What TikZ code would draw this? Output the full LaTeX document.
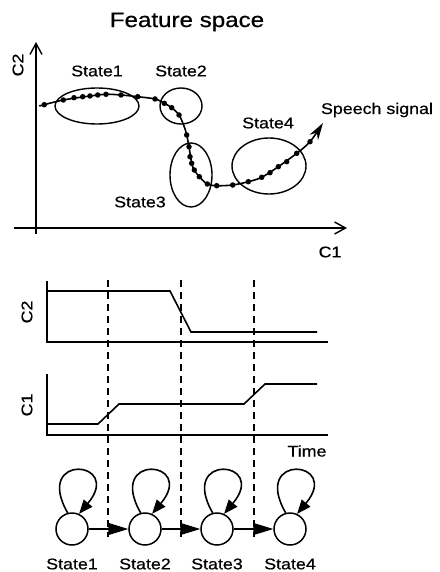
\documentclass[tikz,border=0pt]{standalone}
\usepackage{fontspec}
\setmainfont{Liberation Sans}[FakeStretch=1.15, FakeBold=0.6]
\usepackage{tikz}
\usetikzlibrary{arrows.meta}
\usetikzlibrary{positioning}

\begin{document}
\begin{tikzpicture}[x=1pt, y=-1pt,
  every node/.style={font=\fontsize{15.5}{15.5}\selectfont, inner sep=0pt},
  axis/.style={line width=1.4pt, -{Straight Barb[length=11pt, width=12pt]}},
  frame/.style={line width=1.5pt},
  signal/.style={line width=1.6pt},
  cluster/.style={line width=1.4pt},
  dot/.style={circle, fill, minimum size=5.5pt},
  guide/.style={dash pattern=on 7pt off 5pt, line width=1.6pt},
  state/.style={circle, draw, line width=1.5pt, minimum size=32pt},
]
\tikzset{>={Triangle[length=20pt, width=12pt]}}

\useasboundingbox (0,0) rectangle (439,572);

  % Labels
  \node[font=\fontsize{21}{21}\selectfont] (title) at (187,22) {Feature space};
  \node[rotate=90] (lc2) at (18,65) {C2};
  \node (lc1) at (330,252) {C1};
  \node (l1) at (97,71)  {State1};
  \node (l2) at (181,71) {State2};
  \node (l3) at (140,202) {State3};
  \node (l4) at (268,123) {State4};
  \node (speech) at (377,110) {Speech signal};

  % Feature space axes
  \coordinate (yt) at (36,42);
  \coordinate (yb) at (36,234);
  \coordinate (xl) at (14,228);
  \coordinate (xr) at (347,228);
  \draw[axis] (yb) -- (yt);
  \draw[axis] (xl) -- (xr);

  % Clusters
  \draw[cluster] (97,106)  ellipse [x radius=42pt, y radius=18pt];
  \draw[cluster] (181,106) ellipse [x radius=21pt, y radius=18pt];
  \draw[cluster] (191,175) ellipse [x radius=21pt, y radius=32pt];
  \draw[cluster] (269,166) ellipse [x radius=37pt, y radius=28pt];

  % Speech signal
  \draw[signal, -{Stealth[length=17pt, width=10pt]}] plot[smooth, tension=0.55] coordinates {
    (39.3,106) (63.3,100) (90,96) (106,94.3) (121,95) (137.7,96.7) (155,99)
    (164.3,103.3) (171.7,107.7) (179,115) (184,126) (186.7,135) (189,146.7)
    (191.7,163.3) (194.3,170) (199.3,176.7) (207.3,184) (216.7,185.7)
    (232.7,185) (248.3,181.7) (261.7,177.3) (278.3,166.7) (296.7,153.3)
    (310,141.7) (323,123)};
  \foreach \x/\y in {44.3/104.7, 63.3/100, 74/97.7, 82.7/96.7, 90/96, 97.7/95,
    106/94.3, 121/95, 137.7/96.7, 155/99, 164.3/103.3, 171.7/107.7, 179/115,
    186.7/135, 189/146.7, 190/156.7, 191.7/163.3, 194.3/170, 199.3/176.7,
    207.3/184, 216.7/185.7, 232.7/185, 248.3/181.7, 261.7/177.3, 270/172.7,
    278.3/166.7, 286.7/161.7, 296.7/153.3, 310/141.7}
    \node[dot] at (\x,\y) {};

  % Time plots
  \node[rotate=90] (tc2) at (27,312) {C2};
  \node[rotate=90] (tc1) at (27,405) {C1};
  \node (time) at (307,451) {Time};
  \draw[frame] (47,281) -- (47,342) -- (328,342);
  \draw[frame] (47,374) -- (47,435) -- (328,435);
  \draw[signal] (47,291) -- (170,291) -- (191,332) -- (317,332);
  \draw[signal] (47,424) -- (98,424) -- (119,404) -- (244,404) -- (265,384) -- (317,384);

  % State boundaries
  \foreach \x in {108,181,254}
    \draw[guide] (\x,280) -- (\x,537);

  % Nodes
  \node[state] (s1) at (72,529)  {};
  \node[state] (s2) at (145,529) {};
  \node[state] (s3) at (217,529) {};
  \node[state] (s4) at (290,529) {};
  \node (n1) at (72,564)  {State1};
  \node (n2) at (145,564) {State2};
  \node (n3) at (217,564) {State3};
  \node (n4) at (290,564) {State4};

  % Edges
  \draw[line width=1.2pt, ->] (s1) -- (s2);
  \draw[line width=1.2pt, ->] (s2) -- (s3);
  \draw[line width=1.2pt, ->] (s3) -- (s4);
  \foreach \s in {s1,s2,s3,s4}
    \draw[signal, -{Triangle[length=14pt, width=11pt]}] (\s.105) to[out=120, in=50, distance=70pt] (\s.65);

\end{tikzpicture}
\end{document}
